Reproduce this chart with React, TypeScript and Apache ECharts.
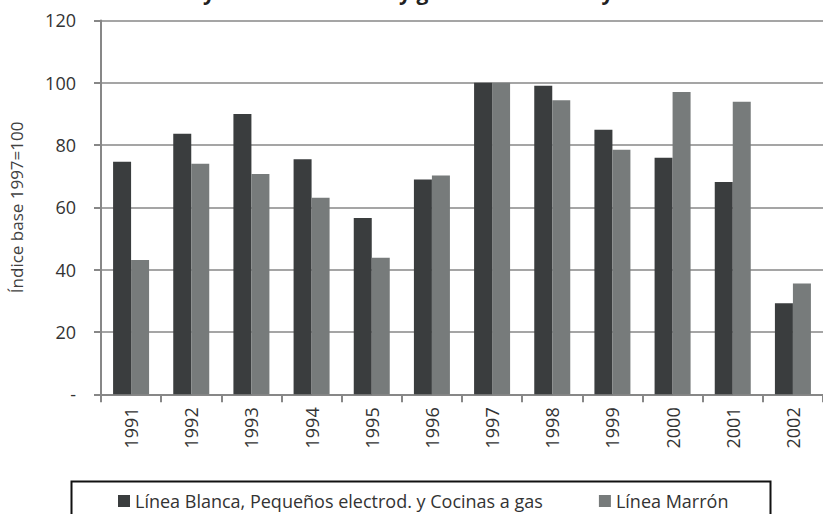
import React, { useEffect, useRef } from "react";
import * as echarts from "echarts";

const years = ["1991", "1992", "1993", "1994", "1995", "1996", "1997", "1998", "1999", "2000", "2001", "2002"];
const lineaBlanca = [74.6, 83.6, 90.0, 75.4, 56.6, 68.9, 100, 99.0, 84.9, 75.9, 68.1, 29.2];
const lineaMarron = [43.1, 74.0, 70.7, 63.1, 43.8, 70.2, 100, 94.4, 78.5, 97.0, 93.9, 35.6];
const seriesNames = ["Línea Blanca, Pequeños electrod. y Cocinas a gas", "Línea Marrón"];
const yTicks = { min: 0, max: 120, interval: 20 };

const FONT = "'Open Sans', Lato, sans-serif";
const AXIS_GREY = "#878787";

export default function App() {
  const ref = useRef<HTMLDivElement>(null);

  useEffect(() => {
    if (!ref.current) return;
    const chart = echarts.init(ref.current, undefined, { renderer: "svg" });
    chart.setOption({
      animation: false,
      backgroundColor: "#ffffff",
      textStyle: { fontFamily: FONT },
      title: {
        text: "Electrodomésticos y otros de tocador y gas: Línea Blanca y Línea Marrón",
        left: 0,
        top: -24,
        textStyle: { fontFamily: FONT, fontSize: 21, fontWeight: "bold", color: "#222" },
      },
      grid: { left: 98, right: -11, top: 20.4, bottom: 119.7, containLabel: false },
      legend: {
        left: 113,
        top: 487,
        itemWidth: 12,
        itemHeight: 12,
        itemGap: 56,
        icon: "rect",
        textStyle: { fontFamily: FONT, fontSize: 18, color: "#333" },
        data: seriesNames,
      },
      xAxis: {
        type: "category",
        data: years,
        axisLine: { lineStyle: { color: AXIS_GREY, width: 2 } },
        axisTick: { show: true, length: 8, lineStyle: { color: AXIS_GREY, width: 2 } },
        axisLabel: { rotate: 90, margin: 13, fontSize: 18, color: "#333", fontFamily: FONT },
      },
      yAxis: {
        type: "value",
        min: yTicks.min,
        max: yTicks.max,
        interval: yTicks.interval,
        name: "Índice base 1997=100",
        nameLocation: "middle",
        nameGap: 76,
        nameTextStyle: { fontFamily: FONT, fontSize: 17, color: "#404040" },
        axisLine: { show: true, lineStyle: { color: AXIS_GREY, width: 2 } },
        axisTick: { show: true, length: 7, lineStyle: { color: AXIS_GREY, width: 2 } },
        axisLabel: {
          margin: 25,
          fontSize: 18,
          color: "#333",
          fontFamily: FONT,
          formatter: (v: number) => (v === 0 ? "-" : String(v)),
        },
        splitLine: { show: true, lineStyle: { color: AXIS_GREY, width: 1.5 } },
      },
      series: [
        {
          name: seriesNames[0],
          type: "bar",
          data: lineaBlanca,
          barWidth: 18,
          barGap: "0%",
          itemStyle: { color: "#3a3d3e" },
        },
        {
          name: seriesNames[1],
          type: "bar",
          data: lineaMarron,
          barWidth: 18,
          barGap: "0%",
          itemStyle: { color: "#777b7b" },
        },
      ],
      graphic: [
        {
          type: "rect",
          left: 69,
          top: 479,
          shape: { width: 699, height: 60 },
          style: { fill: "none", stroke: "#111", lineWidth: 2 },
          silent: true,
        },
      ],
    });
    return () => chart.dispose();
  }, []);

  return (
    <div
      ref={ref}
      style={{ position: "fixed", left: 0, top: 0, width: 823, height: 514, overflow: "hidden" }}
    />
  );
}
